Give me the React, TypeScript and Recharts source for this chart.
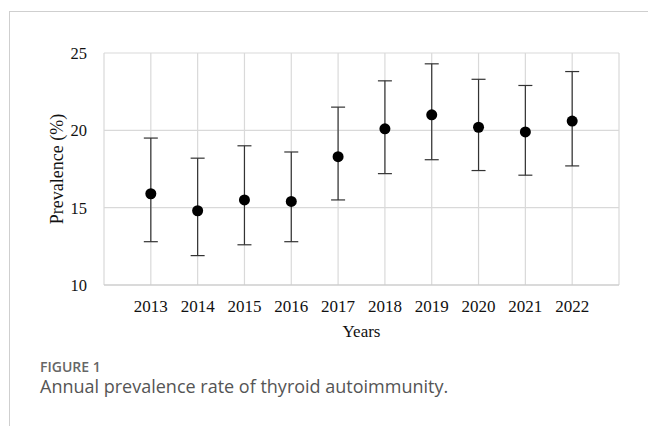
import {
  CartesianGrid,
  ComposedChart,
  ErrorBar,
  Label,
  Scatter,
  XAxis,
  YAxis,
} from "recharts";

const years = [2013, 2014, 2015, 2016, 2017, 2018, 2019, 2020, 2021, 2022];
const prevalence = [15.9, 14.8, 15.5, 15.4, 18.3, 20.1, 21.0, 20.2, 19.9, 20.6];
const lower = [12.8, 11.9, 12.6, 12.8, 15.5, 17.2, 18.1, 17.4, 17.1, 17.7];
const upper = [19.5, 18.2, 19.0, 18.6, 21.5, 23.2, 24.3, 23.3, 22.9, 23.8];

const xTicks = [2012, ...years, 2023];
const yTicks = [10, 15, 20, 25];

const data = years.map((year, i) => ({
  year,
  value: prevalence[i],
  err: [
    +(prevalence[i] - lower[i]).toFixed(2),
    +(upper[i] - prevalence[i]).toFixed(2),
  ],
}));

const serif = "Liberation Serif, serif";
const sans = "'Open Sans', 'Noto Sans', sans-serif";

const Dot = (props: any) => (
  <circle cx={props.cx} cy={props.cy} r={5.5} fill="#000" />
);

// x ticks: hide the two edge years that only carry a grid line
const XTick = ({ x, y, payload }: any) =>
  payload.value === 2012 || payload.value === 2023 ? null : (
    <text x={x} y={y + 27} textAnchor="middle" fontSize={17} fontFamily={serif} fill="#111">
      {payload.value}
    </text>
  );

const YTick = ({ x, y, payload }: any) => (
  <text x={x} y={y + 6} textAnchor="end" fontSize={16.5} fontFamily={serif} fill="#111">
    {payload.value}
  </text>
);

export default function App() {
  return (
    <div
      style={{
        position: "fixed",
        left: 0,
        top: 0,
        width: 648,
        height: 426,
        background: "#fff",
        overflow: "hidden",
      }}
    >
      {/* frame */}
      <div
        style={{
          position: "absolute",
          left: 9,
          top: 11,
          width: 700,
          height: 500,
          borderTop: "1px solid #cfcfcf",
          borderLeft: "1px solid #cfcfcf",
        }}
      />
      <div style={{ position: "absolute", left: 0, top: 0 }}>
        <ComposedChart
          width={648}
          height={426}
          data={data}
          margin={{ top: 53, right: 29, bottom: 81, left: 0 }}
        >
          <CartesianGrid stroke="#d9d9d9" strokeWidth={1.2} />
          <XAxis
            dataKey="year"
            type="number"
            domain={[2012, 2023]}
            ticks={xTicks}
            interval={0}
            height={60}
            tickLine={false}
            tickSize={0}
            tickMargin={0}
            axisLine={{ stroke: "#c8c8c8", strokeWidth: 1.2 }}
            tick={XTick}
          >
            <Label
              content={({ viewBox }: any) => (
                <text
                  x={viewBox.x + viewBox.width / 2}
                  y={337}
                  textAnchor="middle"
                  fontSize={17}
                  fontFamily={serif}
                  fill="#111"
                >
                  Years
                </text>
              )}
            />
          </XAxis>
          <YAxis
            dataKey="value"
            type="number"
            domain={[10, 25]}
            ticks={yTicks}
            width={104}
            axisLine={false}
            tickLine={false}
            tickSize={0}
            tickMargin={17}
            tick={YTick}
          >
            <Label
              content={({ viewBox }: any) => {
                const cy = viewBox.y + viewBox.height / 2;
                return (
                  <text
                    x={57}
                    y={cy}
                    transform={`rotate(-90 57 ${cy})`}
                    textAnchor="middle"
                    dominantBaseline="central"
                    fontSize={18}
                    fontFamily={serif}
                    fill="#111"
                  >
                    Prevalence (%)
                  </text>
                );
              }}
            />
          </YAxis>
          <Scatter
            dataKey="value"
            fill="#000"
            shape={Dot}
            isAnimationActive={false}
          >
            <ErrorBar
              dataKey="err"
              direction="y"
              width={7}
              stroke="#333"
              strokeWidth={1.2}
            />
          </Scatter>
        </ComposedChart>
      </div>
      <div
        style={{
          position: "absolute",
          left: 40,
          top: 360,
          fontFamily: sans,
          fontSize: 14,
          fontWeight: 600,
          color: "#666",
          lineHeight: "14px",
        }}
      >
        FIGURE 1
      </div>
      <div
        style={{
          position: "absolute",
          left: 40,
          top: 378,
          fontFamily: sans,
          fontSize: 18,
          color: "#555",
          lineHeight: "17px",
          whiteSpace: "nowrap",
        }}
      >
        Annual prevalence rate of thyroid autoimmunity.
      </div>
    </div>
  );
}
